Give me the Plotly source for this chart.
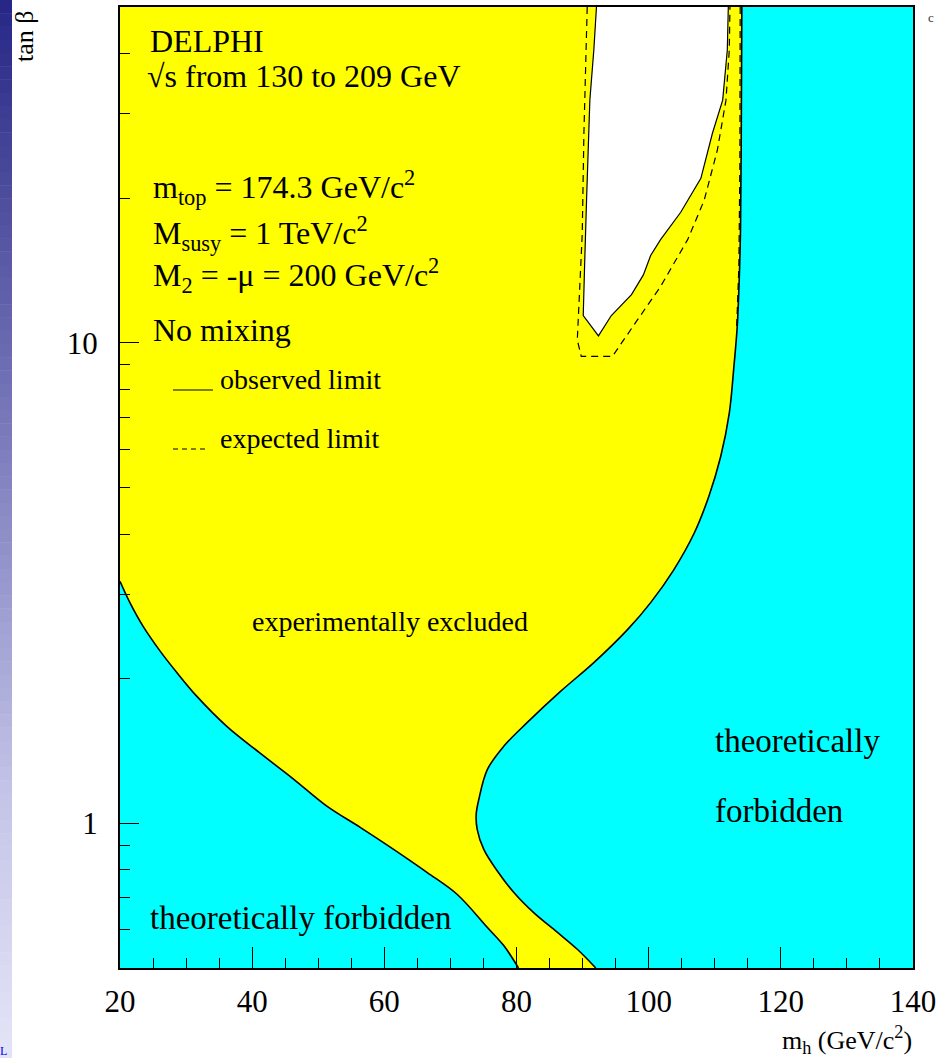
import plotly.graph_objects as go

# --- Exclusion contours in the (m_h, tan beta) plane ---------------------

# Lower theoretical limit (left, "theoretically forbidden" below the curve)
mh_theory_low = [20.0, 21.5, 23.5, 26.1, 28.6, 31.6, 36.2, 41.2, 46.3, 51.3,
                 56.4, 61.4, 66.5, 71.0, 75.6, 78.1, 80.3]
tb_theory_low = [3.19, 2.88, 2.57, 2.28, 2.06, 1.84, 1.59, 1.40, 1.235, 1.086,
                 0.980, 0.883, 0.790, 0.712, 0.607, 0.556, 0.50]

# Upper theoretical limit on m_h (right edge of the allowed band), top to bottom
mh_theory_high = [114.1, 114.0, 113.9, 113.7, 113.4, 112.9, 112.2, 110.9, 109.1,
                  106.9, 103.8, 100.3, 96.8, 91.7, 86.7, 81.6, 78.1, 75.6, 74.3,
                  73.9, 74.05, 75.05, 77.1, 79.6, 82.6, 86.2, 89.2, 92.0]
tb_theory_high = [50.0, 25.2, 17.2, 13.5, 10.8, 8.93, 7.14, 5.80, 4.79,
                  4.02, 3.37, 2.88, 2.53, 2.16, 1.884, 1.62, 1.448, 1.295, 1.122,
                  1.044, 0.972, 0.883, 0.796, 0.718, 0.652, 0.593, 0.547, 0.50]

# Observed limit: region still allowed at large tan beta
mh_observed = [92.1, 91.7, 91.1, 90.9, 90.6, 90.3, 90.1, 92.4, 94.35, 97.4,
               99.2, 100.3, 101.8, 104.85, 107.9, 109.65, 111.2, 111.9, 112.05]
tb_observed = [50.0, 40.7, 32.0, 27.3, 19.8, 14.4, 11.4, 10.34, 11.4, 12.6,
               13.85, 15.2, 16.4, 18.7, 22.0, 27.3, 32.0, 40.7, 50.0]

# Expected limit (two pieces)
mh_expected = [90.7, 90.45, 90.2, 89.95, 89.45, 89.2, 89.8, 94.5, 98.3, 101.8,
               105.9, 108.4, 110.4, 111.7, 112.2, 112.3]
tb_expected = [50.0, 37.5, 27.3, 16.9, 12.3, 10.14, 9.37, 9.37, 11.16, 13.1,
               16.4, 19.8, 25.2, 32.0, 40.7, 50.0]
mh_expected_edge = [113.85, 113.8, 113.65, 113.3]
tb_expected_edge = [50.0, 23.2, 14.4, 10.7]

# Axes
x_range = [20, 140]
tb_range = [0.5, 50]
x_major = [20, 40, 60, 80, 100, 120, 140]
x_minor = [v for v in range(25, 140, 5) if v % 20 != 0]
y_major = [1, 10]
y_major_text = ["1", "10"]
y_minor = [0.5, 0.6, 0.7, 0.8, 0.9, 2, 3, 4, 5, 6, 7, 8, 9, 20, 30, 40, 50]

YELLOW = "#ffff00"
CYAN = "#00ffff"
SERIF = "Liberation Serif"

W, H = 936, 1058
L, R, T, B = 120, 23, 7, 90
PW, PH = W - L - R, H - T - B


def px(x):
    return (x - L) / PW


def py(y):
    return 1 - (y - T) / PH


fig = go.Figure()

# Experimentally excluded band between the two theoretical limits
band_x = ([x_range[0], mh_theory_high[0]] + mh_theory_high
          + mh_theory_low[::-1] + [x_range[0]])
band_y = ([tb_range[1], tb_range[1]] + tb_theory_high
          + tb_theory_low[::-1] + [tb_range[1]])
fig.add_trace(go.Scatter(x=band_x, y=band_y, mode="lines", fill="toself",
                         fillcolor=YELLOW, line=dict(width=0), hoverinfo="skip"))

# Allowed (not excluded) region with the observed limit
fig.add_trace(go.Scatter(x=mh_observed, y=tb_observed, mode="lines", fill="toself",
                         fillcolor="white", line=dict(color="black", width=1.2)))

# Theoretical boundaries
for xs, ys in ((mh_theory_low, tb_theory_low), (mh_theory_high, tb_theory_high)):
    fig.add_trace(go.Scatter(x=xs, y=ys, mode="lines",
                             line=dict(color="black", width=1.6,
                                       shape="spline", smoothing=1.0)))

# Expected limit
for xs, ys in ((mh_expected, tb_expected), (mh_expected_edge, tb_expected_edge)):
    fig.add_trace(go.Scatter(x=xs, y=ys, mode="lines",
                             line=dict(color="black", width=1.2, dash="7px,5px")))

shapes = []
# Shaded strip along the left edge of the page
stops = [(0.0, (38, 38, 135)), (0.15, (70, 70, 152)), (0.35, (110, 110, 180)),
         (0.55, (152, 152, 206)), (0.75, (196, 196, 232)), (1.0, (228, 228, 248))]
n = 80
for i in range(n):
    t = (i + 0.5) / n
    for (t0, c0), (t1, c1) in zip(stops[:-1], stops[1:]):
        if t0 <= t <= t1:
            f = (t - t0) / (t1 - t0)
            c = tuple(round(a + (b - a) * f) for a, b in zip(c0, c1))
            break
    y0 = i * H / n
    y1 = (i + 1) * H / n + 0.5
    shapes.append(dict(type="rect", xref="paper", yref="paper",
                       x0=px(0), x1=px(12), y0=py(y1), y1=py(y0),
                       fillcolor="rgb(%d,%d,%d)" % c, line=dict(width=0),
                       layer="above"))

# Legend samples
shapes.append(dict(type="line", xref="paper", yref="paper", x0=px(173), x1=px(213),
                   y0=py(390), y1=py(390), line=dict(color="black", width=1.2)))
shapes.append(dict(type="line", xref="paper", yref="paper", x0=px(173), x1=px(208),
                   y0=py(449), y1=py(449),
                   line=dict(color="black", width=1, dash="5px,4px")))


def label(text, x, y_mid, size, anchor="left", angle=0, color="black"):
    return dict(text=text, xref="paper", yref="paper", x=px(x), y=py(y_mid),
                xanchor=anchor, yanchor="middle", showarrow=False,
                textangle=angle, font=dict(family=SERIF, size=size, color=color))


annotations = [
    label("DELPHI", 148, 41, 32),
    label("√s from 130 to 209 GeV", 145, 76, 32),
    label("m<sub>top</sub> = 174.3 GeV/c<sup>2</sup>", 151, 187, 32),
    label("M<sub>susy</sub> = 1 TeV/c<sup>2</sup>", 151, 233, 32),
    label("M<sub>2</sub> = -μ = 200 GeV/c<sup>2</sup>", 151, 276, 32),
    label("No mixing", 151, 330, 32),
    label("observed limit", 218, 379, 28),
    label("expected limit", 218, 439, 28),
    label("experimentally excluded", 250, 621, 28),
    label("theoretically forbidden", 148, 918, 33),
    label("theoretically", 713, 741, 33),
    label("forbidden", 713, 811, 33),
    label("m<sub>h</sub> (GeV/c<sup>2</sup>)", 914, 1040, 26, anchor="right"),
    label("tan β", 25, 36, 26, anchor="center", angle=-90),
    label("c", 931, 17, 13, anchor="center", color="#333333"),
    label("L", 3, 1051, 12, anchor="center", color="#0000ff"),
]

fig.update_layout(
    width=W, height=H,
    margin=dict(l=L, r=R, t=T, b=B, autoexpand=False),
    paper_bgcolor="white",
    plot_bgcolor=CYAN,
    showlegend=False,
    shapes=shapes,
    annotations=annotations,
    font=dict(family=SERIF, color="black"),
)

fig.update_xaxes(
    range=x_range, showgrid=False, zeroline=False, automargin=False,
    showline=True, linecolor="black", linewidth=2, mirror=True,
    ticks="inside", ticklen=21, tickwidth=1, tickcolor="black",
    tickmode="array", tickvals=x_major,
    tickfont=dict(family=SERIF, size=31),
    ticklabelstandoff=5, ticklabeloverflow="allow",
    minor=dict(tickmode="array", tickvals=x_minor, ticks="inside",
               ticklen=10, tickwidth=1, tickcolor="black", showgrid=False),
)
fig.update_yaxes(
    type="log", range=[-0.30103, 1.69897], showgrid=False, zeroline=False,
    automargin=False,
    showline=True, linecolor="black", linewidth=2, mirror=True,
    ticks="inside", ticklen=19, tickwidth=1, tickcolor="black",
    tickmode="array", tickvals=y_major, ticktext=y_major_text,
    tickfont=dict(family=SERIF, size=31),
    ticklabelstandoff=14, ticklabeloverflow="allow",
    minor=dict(tickmode="array", tickvals=y_minor, ticks="inside",
               ticklen=10, tickwidth=1, tickcolor="black", showgrid=False),
)

fig.write_html("out.html")
